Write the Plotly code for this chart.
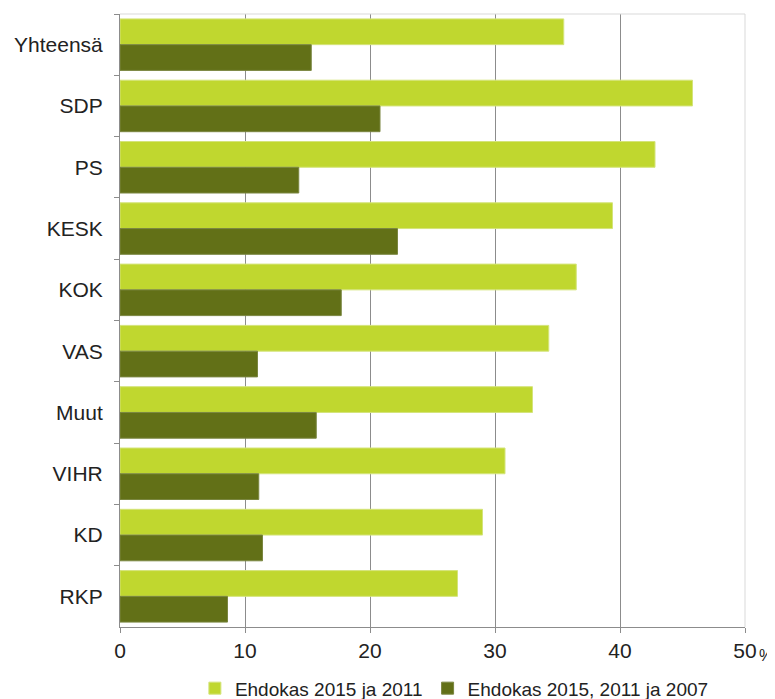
import plotly.graph_objects as go

parties = ['Yhteensä', 'SDP', 'PS', 'KESK', 'KOK', 'VAS', 'Muut', 'VIHR', 'KD', 'RKP']
ehdokas_2015_2011 = [35.5, 45.8, 42.8, 39.4, 36.5, 34.3, 33.0, 30.8, 29.0, 27.0]
ehdokas_2015_2011_2007 = [15.3, 20.8, 14.3, 22.2, 17.7, 11.0, 15.7, 11.1, 11.4, 8.6]
x_ticks = [0, 10, 20, 30, 40, 50]

light = '#C0D72F'
dark = '#627017'
font = 'Liberation Sans, Arial, sans-serif'

fig = go.Figure()
fig.add_trace(go.Bar(y=parties, x=ehdokas_2015_2011, orientation='h', name='Ehdokas 2015 ja 2011',
                     marker=dict(color=light, line=dict(color='#D4E47A', width=1))))
fig.add_trace(go.Bar(y=parties, x=ehdokas_2015_2011_2007, orientation='h', name='Ehdokas 2015, 2011 ja 2007',
                     marker=dict(color=dark, line=dict(color='#7A8640', width=1))))

# page body has an 8px margin, so the figure is a bit smaller than the window
fig.update_layout(
    width=767, height=691,
    margin=dict(l=112, r=30, t=6, b=72, autoexpand=False),
    barmode='group', bargap=0.16, bargroupgap=0,
    plot_bgcolor='white', paper_bgcolor='white',
    font=dict(family=font, size=20, color='#222222'),
    showlegend=True,
    legend=dict(orientation='h', x=0.535, xanchor='center', y=-0.1, yanchor='middle',
                font=dict(size=19), itemwidth=30, traceorder='normal'),
    xaxis=dict(range=[0, 50], tickvals=x_ticks, ticktext=[str(v) for v in x_ticks],
               tickfont=dict(size=21),
               showgrid=True, gridcolor='#8C8C8C', gridwidth=1,
               showline=True, linecolor='#8C8C8C', mirror=False,
               ticks='outside', ticklen=5, tickcolor='#8C8C8C', zeroline=False,
               fixedrange=True),
    yaxis=dict(autorange='reversed', showline=True, linecolor='#8C8C8C',
               tickfont=dict(size=21),
               ticks='outside', ticklen=5, tickcolor='#8C8C8C', tickson='boundaries',
               showgrid=False, ticklabelstandoff=12),
    shapes=[
        dict(type='line', xref='paper', yref='paper', x0=0, x1=1, y0=1, y1=1,
             line=dict(color='#D9D9D9', width=1)),
        dict(type='line', xref='paper', yref='paper', x0=1, x1=1, y0=0, y1=1,
             line=dict(color='#D9D9D9', width=1)),
    ],
    annotations=[dict(text='%', xref='paper', yref='paper', x=1.0, y=0, xshift=12, yshift=-28,
                      showarrow=False, font=dict(size=16), xanchor='left', yanchor='middle')],
)

fig.write_html('out.html')
